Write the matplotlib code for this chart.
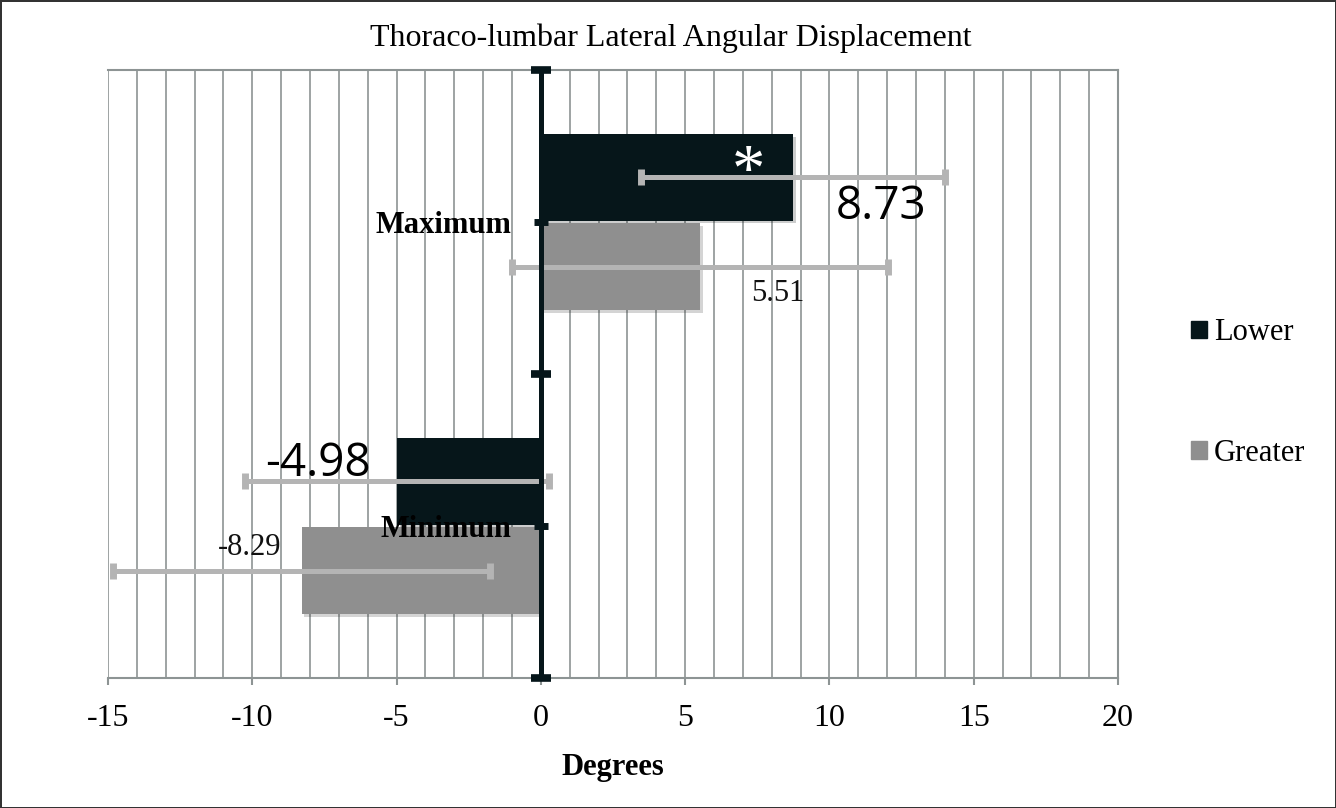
import numpy as np
import matplotlib
matplotlib.use("Agg")
import matplotlib.pyplot as plt
from matplotlib.ticker import MultipleLocator
from matplotlib.patches import Patch
import matplotlib.patheffects as pe

# data
categories = ["Minimum", "Maximum"]
lower_vals = [-4.98, 8.73]
greater_vals = [-8.29, 5.51]
lower_sd = [5.26, 5.27]
greater_sd = [6.52, 6.52]
lower_labels = ["-4.98", "8.73"]
greater_labels = ["-8.29", "5.51"]
x_ticks = [-15, -10, -5, 0, 5, 10, 15, 20]

# label anchor points (data coords), placed like the original
lower_label_pos = [(-7.72, 0.205), (11.78, 1.05)]
greater_label_pos = [(-10.08, -0.07), (8.21, 0.765)]
star_pos = (7.2, 1.16)

c_lower = "#06161a"
c_greater = "#8f8f8f"
c_err = "#b4b4b4"
c_grid = "#8d9494"

plt.rcParams["font.family"] = ["Liberation Serif", "DejaVu Serif"]

fig = plt.figure(figsize=(13.36, 8.08), dpi=100)
fig.patch.set_edgecolor("#333333")
fig.patch.set_linewidth(2)
ax = fig.add_axes([108 / 1336, 130 / 808, 1010 / 1336, 608 / 808])

y = np.arange(len(categories))
off = 0.147
h = 0.285
shadow = [pe.SimplePatchShadow(offset=(2, -2), alpha=0.2), pe.Normal()]

ax.barh(y + off, lower_vals, height=h, color=c_lower, path_effects=shadow, zorder=1)
ax.barh(y - off, greater_vals, height=h, color=c_greater, path_effects=shadow, zorder=1)

ax.errorbar(lower_vals, y + off, xerr=lower_sd, fmt="none", ecolor=c_err,
            elinewidth=3.6, capsize=5.5, capthick=5, zorder=2)
ax.errorbar(greater_vals, y - off, xerr=greater_sd, fmt="none", ecolor=c_err,
            elinewidth=3.6, capsize=5.5, capthick=5, zorder=2)

ax.set_xlim(-15, 20)
ax.set_ylim(-0.5, 1.5)

# gridlines every degree, behind the bars
ax.set_axisbelow(True)
ax.set_xticks(x_ticks)
ax.set_xticklabels([str(t) for t in x_ticks], fontsize=23)
ax.xaxis.set_minor_locator(MultipleLocator(1))
ax.grid(True, axis="x", which="both", color=c_grid, linewidth=1.2)
ax.tick_params(axis="x", which="major", direction="out", length=5, width=1.5,
               color=c_grid, pad=14)
ax.tick_params(axis="x", which="minor", length=0)

# value axis sits at x = 0
ax.spines["left"].set_position(("data", 0))
ax.spines["left"].set_linewidth(3.6)
ax.spines["left"].set_color(c_lower)
ax.spines["left"].set_zorder(2.6)
for s in ["top", "right", "bottom"]:
    ax.spines[s].set_color(c_grid)
    ax.spines[s].set_linewidth(1.5)

ax.set_yticks([-0.5, 0.5, 1.5])
ax.set_yticklabels([])
ax.set_yticks(y, categories, minor=True)
ax.tick_params(axis="y", which="major", direction="inout", length=14, width=5.5, color=c_lower)
ax.tick_params(axis="y", which="minor", direction="inout", length=10, width=5, color=c_lower,
               labelsize=22, pad=16)
for lab in ax.get_yticklabels(minor=True):
    lab.set_fontweight("bold")
ax.yaxis.set_zorder(2.7)

# value labels
for (lx, ly), t in zip(lower_label_pos, lower_labels):
    ax.text(lx, ly, t, fontsize=33, family=["Open Sans", "DejaVu Sans"],
            ha="center", va="center", color="black", zorder=4)
for (lx, ly), t in zip(greater_label_pos, greater_labels):
    ax.text(lx, ly, t, fontsize=22, ha="center", va="center", color="#111111", zorder=4)
ax.text(star_pos[0], star_pos[1], "*", fontsize=48, ha="center", va="center",
        color="white", zorder=4)

ax.set_xlabel("Degrees", fontsize=22, fontweight="bold", labelpad=14)
fig.text(0.502, 1 - 38 / 808, "Thoraco-lumbar Lateral Angular Displacement",
         fontsize=23, ha="center", va="center")

handles = [Patch(color=c_lower, label="Lower"), Patch(color=c_greater, label="Greater")]
fig.legend(handles=handles, loc="center left", bbox_to_anchor=(1176 / 1336, 1 - 393 / 808),
           frameon=False, fontsize=22, handlelength=0.5, handleheight=0.5,
           handletextpad=0.25, labelspacing=3.0, borderpad=0)

fig.savefig("out.png", dpi=100)
